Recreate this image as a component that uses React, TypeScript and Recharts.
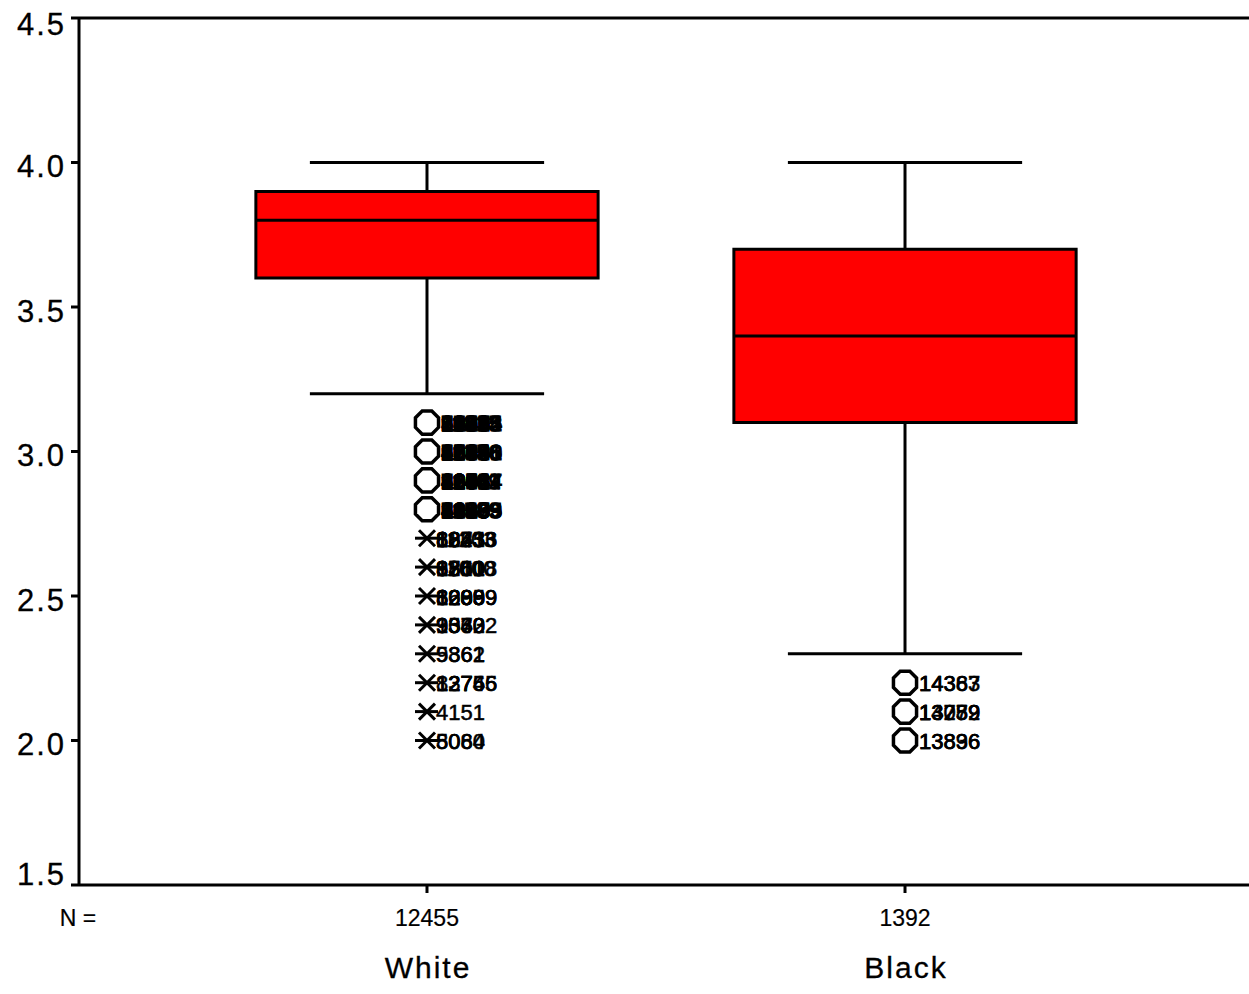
import React from "react";
import {
  ComposedChart,
  Scatter,
  XAxis,
  YAxis,
  ReferenceArea,
  ReferenceLine,
} from "recharts";

// groups and box statistics
const groups = ["White", "Black"];
const groupN = [12455, 1392];
const whiskerHigh = [4.0, 4.0];
const q3 = [3.9, 3.7];
const median = [3.8, 3.4];
const q1 = [3.6, 3.1];
const whiskerLow = [3.2, 2.3];

// outliers (circles) and extremes (asterisks), with case labels
const whiteOutlierValues = [3.1, 3.0, 2.9, 2.8];
const whiteOutlierCases = [
  ["11213", "10965", "7418", "5003", "2186", "9975", "12604", "8847", "3351", "10022", "6719", "11835"],
  ["10488", "7795", "11356", "2849", "6008", "9132", "12350", "4586", "8263", "1974", "10641", "5528"],
  ["12084", "3965", "10727", "6154", "8838", "1243", "11409", "7606", "2392", "9058", "12211", "4854"],
  ["10279", "5380", "9618", "12035", "2806", "7449", "11589", "4816", "8130", "3695", "10953", "6656"],
];
const whiteExtremeValues = [2.7, 2.6, 2.5, 2.4, 2.3, 2.2, 2.1, 2.0];
const whiteExtremeCases = [
  ["10556", "8873", "12413", "6343", "8823", "11203"],
  ["6750", "12608", "8801", "3361", "9510", "11000"],
  ["6209", "3630", "12889", "8209", "10959"],
  ["9370", "3542", "10302", "9363"],
  ["9362", "5861"],
  ["13765", "8274", "12756"],
  ["4151"],
  ["5060", "8084"],
];
const blackOutlierValues = [2.2, 2.1, 2.0];
const blackOutlierCases = [
  ["14367", "14383"],
  ["13079", "14252", "13789"],
  ["13896", "13836"],
];

const yTicks = [1.5, 2.0, 2.5, 3.0, 3.5, 4.0, 4.5];
const BOX_HALF = 0.358;
const CAP_HALF = 0.245;
const FONT = "'Liberation Sans', Arial, sans-serif";
const LW = 3;

const outlierData = [
  ...whiteOutlierValues.map((v, i) => ({ x: 1, y: v, cases: whiteOutlierCases[i] })),
  ...blackOutlierValues.map((v, i) => ({ x: 2, y: v, cases: blackOutlierCases[i] })),
];
const extremeData = whiteExtremeValues.map((v, i) => ({ x: 1, y: v, cases: whiteExtremeCases[i] }));

function CaseLabels({ cx, cy, cases, dx, weight }: any) {
  return (
    <>
      {cases.map((c: string, k: number) => (
        <text
          key={k}
          x={cx + dx}
          y={cy + 1}
          dominantBaseline="central"
          fontFamily={FONT}
          fontSize={22}
          fill="#000"
          stroke="#000"
          strokeWidth={cases.length > 6 ? weight * 2 : weight}
        >
          {c}
        </text>
      ))}
    </>
  );
}

function OctagonShape(props: any) {
  const { cx, cy, payload } = props;
  const r = 12.5;
  const pts: string[] = [];
  for (let i = 0; i < 8; i++) {
    const a = (Math.PI / 8) * (2 * i + 1);
    pts.push(`${cx + r * Math.cos(a)},${cy + r * Math.sin(a)}`);
  }
  return (
    <g>
      <CaseLabels cx={cx} cy={cy} cases={payload.cases} dx={14} weight={0.5} />
      <polygon points={pts.join(" ")} fill="#fff" stroke="#000" strokeWidth={3.5} />
    </g>
  );
}

function StarShape(props: any) {
  const { cx, cy, payload } = props;
  const s = 8;
  return (
    <g>
      <CaseLabels cx={cx} cy={cy} cases={payload.cases} dx={9} weight={0.5} />
      <g stroke="#000" strokeWidth={3}>
        <line x1={cx - s} y1={cy - s} x2={cx + s} y2={cy + s} />
        <line x1={cx - s} y1={cy + s} x2={cx + s} y2={cy - s} />
        <line x1={cx - 12} y1={cy} x2={cx + 11} y2={cy} />
      </g>
    </g>
  );
}

function YTick({ x, y, payload }: any) {
  const v = payload.value;
  const dy = v === 4.5 ? 6 : v === 1.5 ? -11 : 4;
  return (
    <text
      x={x + 3}
      y={y + dy}
      textAnchor="end"
      dominantBaseline="central"
      fontFamily={FONT}
      fontSize={31}
      letterSpacing={2}
      fill="#000"
      stroke="#000"
      strokeWidth={0.3}
    >
      {v.toFixed(1)}
    </text>
  );
}

function XTick({ x, y, payload }: any) {
  const i = payload.value - 1;
  return (
    <g>
      <text
        x={x}
        y={y + 19}
        textAnchor="middle"
        dominantBaseline="central"
        fontFamily={FONT}
        fontSize={23}
        fill="#000"
        stroke="#000"
        strokeWidth={0.2}
      >
        {groupN[i]}
      </text>
      <text
        x={x + 1}
        y={y + 68}
        textAnchor="middle"
        dominantBaseline="central"
        fontFamily={FONT}
        fontSize={30}
        letterSpacing={2}
        fill="#000"
        stroke="#000"
        strokeWidth={0.3}
      >
        {groups[i]}
      </text>
    </g>
  );
}

export default function App() {
  return (
    <div style={{ position: "absolute", left: 0, top: 0, width: 1249, height: 994, overflow: "hidden", background: "#fff" }}>
      <ComposedChart width={1253} height={994} margin={{ top: 18, right: 0, bottom: 9, left: 0 }}>
        <XAxis
          type="number"
          dataKey="x"
          domain={[0.272, 2.728]}
          ticks={[1, 2]}
          allowDataOverflow
          tick={<XTick />}
          height={100}
          tickSize={8}
          tickMargin={6}
          axisLine={{ stroke: "#000", strokeWidth: 3 }}
          tickLine={{ stroke: "#000", strokeWidth: 3 }}
          label={{
            content: ({ viewBox }: any) => (
              <text
                x={viewBox.x - 1}
                y={viewBox.y + 33}
                textAnchor="middle"
                dominantBaseline="central"
                fontFamily={FONT}
                fontSize={23}
                fill="#000"
                stroke="#000"
                strokeWidth={0.2}
              >
                N =
              </text>
            ),
          }}
        />
        <YAxis
          type="number"
          dataKey="y"
          domain={[1.5, 4.5]}
          ticks={yTicks}
          allowDataOverflow
          width={79}
          tick={<YTick />}
          tickSize={8}
          tickMargin={8}
          axisLine={{ stroke: "#000", strokeWidth: 3 }}
          tickLine={{ stroke: "#000", strokeWidth: 3 }}
        />
        <ReferenceLine y={4.5} stroke="#000" strokeWidth={3} />
        {groups.map((g, i) => (
          <ReferenceArea
            key={`box-${g}`}
            x1={i + 1 - BOX_HALF}
            x2={i + 1 + BOX_HALF}
            y1={q1[i]}
            y2={q3[i]}
            fill="#ff0000"
            fillOpacity={1}
            stroke="#000"
            strokeWidth={LW}
          />
        ))}
        {groups.map((g, i) => (
          <ReferenceLine
            key={`med-${g}`}
            segment={[{ x: i + 1 - BOX_HALF, y: median[i] }, { x: i + 1 + BOX_HALF, y: median[i] }]}
            stroke="#000"
            strokeWidth={LW}
          />
        ))}
        {groups.map((g, i) => (
          <ReferenceLine
            key={`wu-${g}`}
            segment={[{ x: i + 1, y: q3[i] }, { x: i + 1, y: whiskerHigh[i] }]}
            stroke="#000"
            strokeWidth={LW}
          />
        ))}
        {groups.map((g, i) => (
          <ReferenceLine
            key={`wl-${g}`}
            segment={[{ x: i + 1, y: q1[i] }, { x: i + 1, y: whiskerLow[i] }]}
            stroke="#000"
            strokeWidth={LW}
          />
        ))}
        {groups.map((g, i) => (
          <ReferenceLine
            key={`cu-${g}`}
            segment={[{ x: i + 1 - CAP_HALF, y: whiskerHigh[i] }, { x: i + 1 + CAP_HALF, y: whiskerHigh[i] }]}
            stroke="#000"
            strokeWidth={LW}
          />
        ))}
        {groups.map((g, i) => (
          <ReferenceLine
            key={`cl-${g}`}
            segment={[{ x: i + 1 - CAP_HALF, y: whiskerLow[i] }, { x: i + 1 + CAP_HALF, y: whiskerLow[i] }]}
            stroke="#000"
            strokeWidth={LW}
          />
        ))}
        <Scatter data={outlierData} shape={<OctagonShape />} isAnimationActive={false} />
        <Scatter data={extremeData} shape={<StarShape />} isAnimationActive={false} />
      </ComposedChart>
    </div>
  );
}
